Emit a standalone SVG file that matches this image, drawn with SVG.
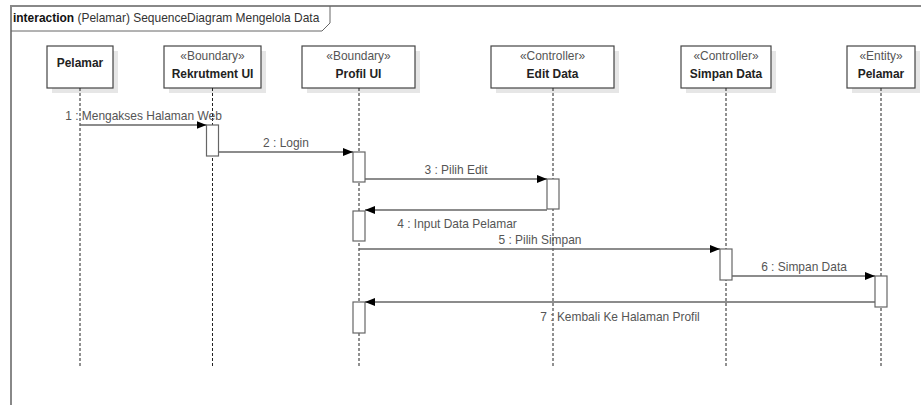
<svg xmlns="http://www.w3.org/2000/svg" width="921" height="405" viewBox="0 0 921 405">
  <style>
    text { font-family: "Liberation Sans", Arial, sans-serif; font-size: 13px; }
    .title { fill: #333; }
    .title .kw { font-weight: bold; fill: #111; }
    .stereo { fill: #555; text-anchor: middle; }
    .name { fill: #222; font-weight: bold; text-anchor: middle; }
    .msg { fill: #555; text-anchor: middle; }
    .head { fill: #fff; stroke: #444; stroke-width: 1.2; }
    .shadow { fill: #e6e6e6; }
    .life { stroke: #222; stroke-width: 1; stroke-dasharray: 3 2; fill: none; }
    .act { fill: #fff; stroke: #666; stroke-width: 1.2; }
    .call { stroke: #666; stroke-width: 1.5; fill: none; marker-end: url(#arrow); }
  </style>
  <defs>
    <marker id="arrow" viewBox="0 0 10 8" refX="10" refY="4" markerWidth="10" markerHeight="8" markerUnits="userSpaceOnUse" orient="auto">
      <path d="M0,0 L10,4 L0,8 Z" fill="#000"/>
    </marker>
  </defs>

  <rect width="921" height="405" fill="#fff"/>

  <!-- interaction frame -->
  <g id="frame">
    <rect x="11" y="6" width="920" height="410" fill="none" stroke="#888" stroke-width="2"/>
    <path d="M11,31 H322 L330,23 V6" fill="none" stroke="#666" stroke-width="1"/>
    <text class="title" transform="translate(13,22) scale(0.92,1)"><tspan class="kw">interaction</tspan> (Pelamar) SequenceDiagram Mengelola Data</text>
  </g>

  <!-- lifelines -->
  <g id="pelamar">
    <rect class="shadow" x="52" y="51" width="66" height="42"/>
    <rect class="head" x="47" y="46" width="66" height="42"/>
    <text class="name" transform="translate(80,67) scale(0.92,1)">Pelamar</text>
    <line class="life" x1="80" y1="88" x2="80" y2="367"/>
  </g>

  <g id="rekrutment-ui">
    <rect class="shadow" x="169" y="51" width="97" height="42"/>
    <rect class="head" x="164" y="46" width="97" height="42"/>
    <text class="stereo" transform="translate(212.5,60) scale(0.92,1)">«Boundary»</text>
    <text class="name" transform="translate(212.5,78) scale(0.92,1)">Rekrutment UI</text>
    <line class="life" x1="212.5" y1="88" x2="212.5" y2="367"/>
    <rect class="act" x="206.5" y="125" width="12" height="31"/>
  </g>

  <g id="profil-ui">
    <rect class="shadow" x="307" y="51" width="113" height="42"/>
    <rect class="head" x="302" y="46" width="113" height="42"/>
    <text class="stereo" transform="translate(358.5,60) scale(0.92,1)">«Boundary»</text>
    <text class="name" transform="translate(358.5,78) scale(0.92,1)">Profil UI</text>
    <line class="life" x1="359" y1="88" x2="359" y2="367"/>
    <rect class="act" x="353" y="152" width="12" height="30"/>
    <rect class="act" x="353" y="211" width="12" height="30"/>
    <rect class="act" x="353" y="302" width="12" height="31"/>
  </g>

  <g id="edit-data">
    <rect class="shadow" x="496" y="51" width="123" height="42"/>
    <rect class="head" x="491" y="46" width="123" height="42"/>
    <text class="stereo" transform="translate(552.5,60) scale(0.92,1)">«Controller»</text>
    <text class="name" transform="translate(552.5,78) scale(0.92,1)">Edit Data</text>
    <line class="life" x1="553" y1="88" x2="553" y2="367"/>
    <rect class="act" x="547" y="179" width="12" height="30"/>
  </g>

  <g id="simpan-data">
    <rect class="shadow" x="686" y="51" width="90" height="42"/>
    <rect class="head" x="681" y="46" width="90" height="42"/>
    <text class="stereo" transform="translate(726,60) scale(0.92,1)">«Controller»</text>
    <text class="name" transform="translate(726,78) scale(0.92,1)">Simpan Data</text>
    <line class="life" x1="726" y1="88" x2="726" y2="367"/>
    <rect class="act" x="720" y="249" width="12" height="31"/>
  </g>

  <g id="entity-pelamar">
    <rect class="shadow" x="852" y="51" width="68" height="42"/>
    <rect class="head" x="847" y="46" width="68" height="42"/>
    <text class="stereo" transform="translate(881,60) scale(0.92,1)">«Entity»</text>
    <text class="name" transform="translate(881,78) scale(0.92,1)">Pelamar</text>
    <line class="life" x1="881" y1="88" x2="881" y2="367"/>
    <rect class="act" x="875" y="276" width="12" height="31"/>
  </g>

  <!-- messages -->
  <g id="messages">
    <line class="call" x1="80" y1="125" x2="206.5" y2="125"/>
    <text class="msg" transform="translate(143.5,120) scale(0.92,1)">1 : Mengakses Halaman Web</text>

    <line class="call" x1="218.5" y1="152" x2="353" y2="152"/>
    <text class="msg" transform="translate(286,147) scale(0.92,1)">2 : Login</text>

    <line class="call" x1="365" y1="179" x2="547" y2="179"/>
    <text class="msg" transform="translate(456,174) scale(0.92,1)">3 : Pilih Edit</text>

    <line class="call" x1="547" y1="210" x2="365" y2="210"/>
    <text class="msg" transform="translate(457,228) scale(0.92,1)">4 : Input Data Pelamar</text>

    <line class="call" x1="359" y1="249" x2="720" y2="249"/>
    <text class="msg" transform="translate(540,244) scale(0.92,1)">5 : Pilih Simpan</text>

    <line class="call" x1="732" y1="276" x2="875" y2="276"/>
    <text class="msg" transform="translate(804,271) scale(0.92,1)">6 : Simpan Data</text>

    <line class="call" x1="875" y1="302" x2="365" y2="302"/>
    <text class="msg" transform="translate(620,321) scale(0.92,1)">7 : Kembali Ke Halaman Profil</text>
  </g>
</svg>
